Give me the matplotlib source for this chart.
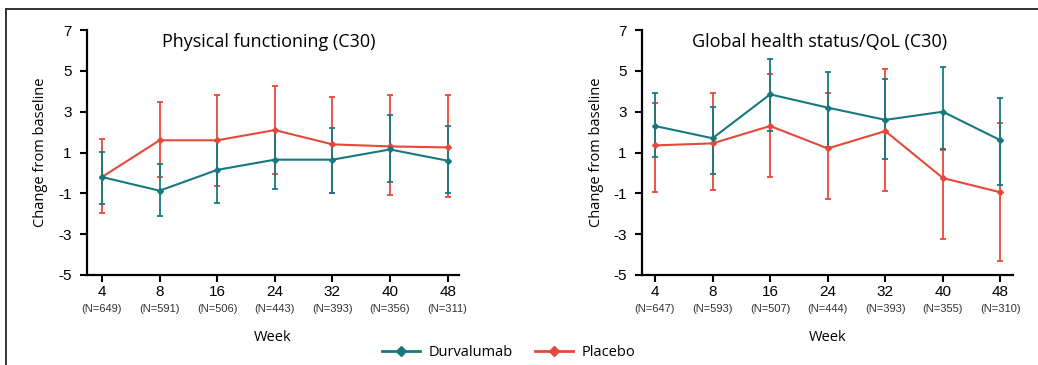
import matplotlib
matplotlib.use("Agg")
import matplotlib.pyplot as plt
from matplotlib.lines import Line2D
import numpy as np

plt.rcParams["font.family"] = "Liberation Sans"
plt.rcParams["axes.unicode_minus"] = False

# ---- data ----
weeks = ["4", "8", "16", "24", "32", "40", "48"]

# Physical functioning (C30)
pf_n = ["(N=649)", "(N=591)", "(N=506)", "(N=443)", "(N=393)", "(N=356)", "(N=311)"]
pf_durva = [-0.2, -0.87, 0.15, 0.65, 0.65, 1.15, 0.6]
pf_durva_hi = [1.05, 0.45, 1.55, 2.1, 2.2, 2.85, 2.3]
pf_durva_lo = [-1.5, -2.1, -1.45, -0.8, -1.0, -0.45, -1.0]
pf_plac = [-0.2, 1.6, 1.6, 2.1, 1.4, 1.3, 1.25]
pf_plac_hi = [1.65, 3.5, 3.8, 4.25, 3.7, 3.8, 3.8]
pf_plac_lo = [-1.95, -0.2, -0.65, -0.05, -1.0, -1.1, -1.2]

# Global health status/QoL (C30)
gh_n = ["(N=647)", "(N=593)", "(N=507)", "(N=444)", "(N=393)", "(N=355)", "(N=310)"]
gh_durva = [2.3, 1.7, 3.85, 3.2, 2.6, 3.0, 1.6]
gh_durva_hi = [3.9, 3.25, 5.6, 4.95, 4.6, 5.2, 3.65]
gh_durva_lo = [0.8, -0.05, 2.05, 1.25, 0.7, 1.15, -0.6]
gh_plac = [1.35, 1.45, 2.3, 1.2, 2.05, -0.25, -0.95]
gh_plac_hi = [3.45, 3.9, 4.85, 3.9, 5.1, 1.1, 2.45]
gh_plac_lo = [-0.95, -0.85, -0.2, -1.3, -0.9, -3.25, -4.3]

teal = "#17797f"
red = "#e5493a"
# ------------------------------

fig = plt.figure(figsize=(10.38, 3.65), dpi=100)


def panel(rect, title, n_labels, d, d_hi, d_lo, p, p_hi, p_lo, xlim, title_x):
    ax = fig.add_axes(rect)
    x = np.arange(len(weeks))
    for y, hi, lo, c in [(p, p_hi, p_lo, red), (d, d_hi, d_lo, teal)]:
        y = np.array(y)
        yerr = [y - np.array(lo), np.array(hi) - y]
        ax.errorbar(x, y, yerr=yerr, color=c, lw=1.5, marker="D", ms=3,
                    elinewidth=1.3, capsize=2.5, capthick=1.3, ecolor=c)
    ax.set_xlim(*xlim)
    ax.set_ylim(-5, 7)
    ax.set_yticks([7, 5, 3, 1, -1, -3, -5])
    ax.set_xticks(x)
    ax.set_xticklabels(weeks)
    ax.tick_params(axis="y", labelsize=11, length=5, width=1.5, pad=6)
    ax.tick_params(axis="x", labelsize=11, length=5, width=1.5, pad=2)
    for s in ["top", "right"]:
        ax.spines[s].set_visible(False)
    for s in ["left", "bottom"]:
        ax.spines[s].set_linewidth(1.6)
    for xi, nl in zip(x, n_labels):
        ax.text(xi, -0.14, nl, transform=ax.get_xaxis_transform(), ha="center",
                va="center", fontsize=8, color="#333333")
    ax.text(title_x, 0.95, title, transform=ax.transAxes, ha="center", va="center",
            fontsize=13, family="Open Sans")
    ax.set_ylabel("Change from baseline", family="Open Sans", fontsize=10.5, labelpad=7)
    ax.text(0.5, -0.255, "Week", transform=ax.transAxes, ha="center", va="center",
            fontsize=10.5, family="Open Sans")
    return ax


panel([0.0838, 0.2466, 0.358, 0.671], "Physical functioning (C30)", pf_n,
      pf_durva, pf_durva_hi, pf_durva_lo, pf_plac, pf_plac_hi, pf_plac_lo,
      (-0.26, 6.19), 0.49)
panel([0.6185, 0.2466, 0.357, 0.671], "Global health status/QoL (C30)", gh_n,
      gh_durva, gh_durva_hi, gh_durva_lo, gh_plac, gh_plac_hi, gh_plac_lo,
      (-0.225, 6.21), 0.48)

handles = [Line2D([], [], color=teal, lw=2, marker="D", ms=5),
           Line2D([], [], color=red, lw=2, marker="D", ms=5)]
fig.legend(handles, ["Durvalumab", "Placebo"], loc="center", ncol=2,
           bbox_to_anchor=(0.49, 0.035), frameon=False,
           prop={"family": "Open Sans", "size": 10.5}, handlelength=2.6,
           columnspacing=1.5, handletextpad=0.6)

# frame lines along the top and the left edge
fig.add_artist(Line2D([0.006, 1.0], [0.975, 0.975], color="#333333", lw=1.4,
                      transform=fig.transFigure))
fig.add_artist(Line2D([0.006, 0.006], [0.0, 0.975], color="#333333", lw=1.4,
                      transform=fig.transFigure))

fig.savefig("out.png", dpi=100)
